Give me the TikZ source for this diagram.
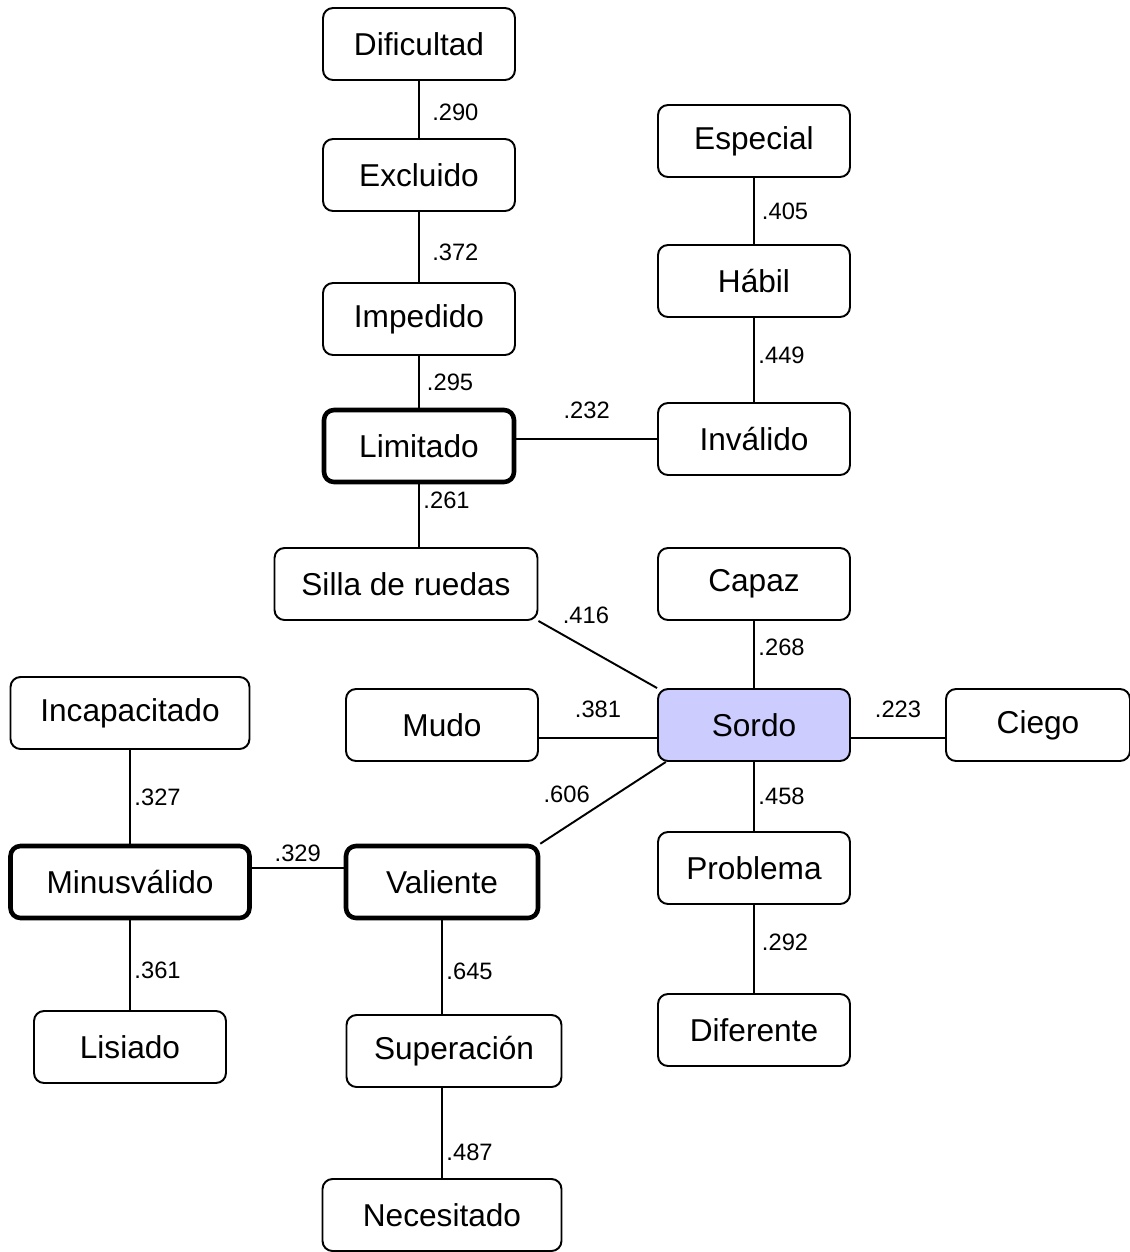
\documentclass[tikz,border=0pt]{standalone}
\usepackage{fontspec}
\setmainfont{Liberation Sans}
\definecolor{hubfill}{RGB}{204,204,255}
\begin{document}
\begin{tikzpicture}
    [x=0.02cm, y=-0.02cm,
    term/.style={draw, line width=1.1pt, rounded corners=0.2cm,
      minimum width=3.84cm, minimum height=1.44cm, inner sep=0pt,
      font=\fontsize{18}{20}\selectfont},
    core/.style={term, line width=2.6pt},
    hub/.style={term, fill=hubfill},
    link/.style={line width=1.1pt},
    weight/.style={font=\fontsize{13.5}{15}\selectfont, inner sep=2pt}]
    \useasboundingbox (0,0) rectangle (1130,1252);
    % upper chain
    \node[term] (dificultad) at (419,44) {Dificultad};
    \node[term] (excluido) at (419,175) {Excluido};
    \node[term] (impedido) at (419,319) {Impedido};
    \node[core, minimum width=3.8cm] (limitado) at (419,446) {Limitado};
    \node[term, minimum width=5.26cm] (silla) at (406,584) {Silla de ruedas};
    \node[term] (especial) at (754,141) {Especial};
    \node[term] (habil) at (754,281) {H\'abil};
    \node[term] (invalido) at (754,439) {Inv\'alido};
    % around Sordo
    \node[term] (capaz) at (754,584) {Capaz};
    \node[hub] (sordo) at (754,725) {Sordo};
    \node[term, minimum width=3.68cm] (ciego) at (1038,725) {Ciego};
    \node[term] (mudo) at (442,725) {Mudo};
    \node[term] (problema) at (754,868) {Problema};
    \node[term] (diferente) at (754,1030) {Diferente};
    % lower left
    \node[term, minimum width=4.78cm] (incapacitado) at (130,713) {Incapacitado};
    \node[core, minimum width=4.78cm] (minusvalido) at (130,882) {Minusv\'alido};
    \node[core] (valiente) at (442,882) {Valiente};
    \node[term] (lisiado) at (130,1047) {Lisiado};
    \node[term, minimum width=4.3cm] (superacion) at (454,1051) {Superaci\'on};
    \node[term, minimum width=4.78cm] (necesitado) at (442,1215) {Necesitado};

    \draw[link] (dificultad) -- node[weight, right=5pt, pos=0.55] {.290} (excluido);
    \draw[link] (excluido) -- node[weight, right=5pt, pos=0.57] {.372} (impedido);
    \draw[link] (impedido) -- node[weight, right=2pt] {.295} (limitado);
    \draw[link] (limitado.east |- invalido.west) -- node[weight, above=9pt] {.232} (invalido.west);
    \draw[link] (especial) -- node[weight, right=2pt] {.405} (habil);
    \draw[link] (habil) -- node[weight, right, pos=0.45] {.449} (invalido);
    \draw[link] (limitado.south) -- node[weight, right, pos=0.25] {.261} (limitado.south |- silla.north);
    \draw[link] (silla.south east) -- node[weight, above=11pt, pos=0.4] {.416} (sordo.north west);
    \draw[link] (capaz) -- node[weight, right, pos=0.4] {.268} (sordo);
    \draw[link] ([yshift=-0.26cm]mudo.east) -- node[weight, above=9pt] {.381} ([yshift=-0.26cm]sordo.west);
    \draw[link] ([yshift=-0.26cm]sordo.east) -- node[weight, above=9pt] {.223} ([yshift=-0.26cm]ciego.west);
    \draw[link] ([xshift=5pt]sordo.south west) -- node[weight, above=11pt, pos=0.79] {.606} (valiente.north east);
    \draw[link] (sordo) -- node[weight, right] {.458} (problema);
    \draw[link] (problema) -- node[weight, right=2pt, pos=0.42] {.292} (diferente);
    \draw[link] (incapacitado) -- node[weight, right] {.327} (minusvalido);
    \draw[link] ([yshift=0.28cm]minusvalido.east) -- node[weight, above=1pt] {.329} ([yshift=0.28cm]valiente.west);
    \draw[link] (minusvalido) -- node[weight, right, pos=0.56] {.361} (lisiado);
    \draw[link] (valiente.south) -- node[weight, right, pos=0.54] {.645} (valiente.south |- superacion.north);
    \draw[link] (necesitado.north |- superacion.south) -- node[weight, right, pos=0.72] {.487} (necesitado.north);
\end{tikzpicture}
\end{document}
